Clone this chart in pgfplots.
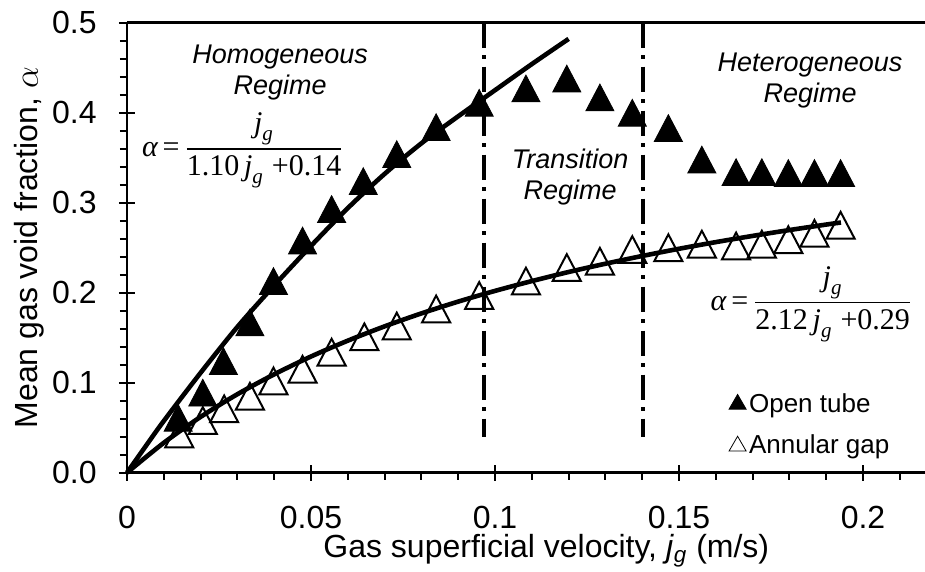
\documentclass[border=0pt]{standalone}
\usepackage{amsmath}
\usepackage{pgfplots}
\pgfplotsset{compat=1.18}
\usepackage{fontspec}
\setmainfont{Liberation Sans}
\newfontfamily\tnr{Liberation Serif}
\newcommand\ti[1]{\text{\tnr\itshape #1}}
\newcommand\tr[1]{\text{\tnr #1}}
\begin{document}
\begin{tikzpicture}
\begin{axis}[
  scale only axis, width=399.3pt, height=225pt,
  xmin=0, xmax=0.217, ymin=0, ymax=0.5,
  axis x line*=bottom, axis y line*=left,
  axis line style={line width=1.4pt, -},
  xtick={0,0.05,0.1,0.15,0.2,0.25}, minor x tick num=4,
  ytick={0,0.1,0.2,0.3,0.4,0.5}, minor y tick num=4,
  tick align=center, major tick length=8pt, minor tick length=3.5pt,
  every tick/.style={line width=1pt, black},
  minor x tick style={yshift=-1.75pt}, minor y tick style={xshift=-1.75pt},
  /pgf/number format/assume math mode=true,
  ticklabel style={font=\fontsize{16}{19}\selectfont},
  xticklabel style={/pgf/number format/fixed, /pgf/number format/precision=2, anchor=base, inner sep=0pt, yshift=-24pt},
  yticklabel style={/pgf/number format/fixed, /pgf/number format/fixed zerofill, /pgf/number format/precision=1, anchor=east, inner sep=0pt, xshift=-11pt},
  xlabel={Gas superficial velocity, \textit{j}\textsubscript{\textit{g}} (m/s)},
  ylabel={Mean gas void fraction, $\alpha$},
  label style={font=\fontsize{16}{19}\selectfont},
  xlabel style={at={(axis description cs:0.525,-0.174)}, anchor=center, inner sep=0pt},
  ylabel style={at={(axis description cs:-0.122,0.5)}, anchor=center, inner sep=0pt},
  legend style={at={(axis cs:0.1635,0.092)}, anchor=north west, draw=none, fill=none,
    font=\fontsize{13}{15}\selectfont, row sep=7pt, inner sep=0pt,
    nodes={inner sep=1.5pt, font=\fontsize{13}{15}\selectfont}},
  legend cell align=left,
  legend image code/.code={\draw[#1, mark size=4.9pt, mark options={yscale=1}] plot coordinates {(0.25cm,0cm)};},
  clip=false,
]
% Open tube
\addplot[only marks, mark=triangle*, mark size=8.1pt, mark options={fill=black, draw=black, yscale=1.1}]
 coordinates {(0.0139,0.056)(0.0206,0.084)(0.0262,0.119)(0.0334,0.162)(0.0398,0.208)(0.0477,0.253)(0.0556,0.288)(0.0642,0.319)(0.0733,0.349)(0.0840,0.379)(0.0957,0.406)(0.1084,0.422)(0.1195,0.433)(0.1285,0.412)(0.1373,0.395)(0.1471,0.378)(0.1562,0.343)(0.1655,0.329)(0.1725,0.329)(0.1797,0.328)(0.1868,0.328)(0.1939,0.328)};
\addlegendentry{Open tube}
% Annular gap
\addplot[only marks, mark=triangle, mark size=8.1pt, mark options={draw=black, line width=1pt, yscale=1.1}]
 coordinates {(0.0142,0.038)(0.0206,0.053)(0.0264,0.066)(0.0334,0.080)(0.0398,0.097)(0.0477,0.110)(0.0556,0.129)(0.0645,0.146)(0.0733,0.158)(0.0840,0.177)(0.0957,0.192)(0.1084,0.208)(0.1195,0.223)(0.1285,0.230)(0.1373,0.243)(0.1471,0.245)(0.1562,0.249)(0.1655,0.247)(0.1725,0.249)(0.1797,0.254)(0.1868,0.261)(0.1939,0.270)};
\addlegendentry{Annular gap}
% fitted curves
\addplot[forget plot, black, line width=2.3pt, smooth]
 coordinates {(0,0)(0.005,0.029)(0.01,0.0575)(0.02,0.111)(0.03,0.162)(0.04,0.208)(0.05,0.252)(0.06,0.294)(0.07,0.332)(0.08,0.366)(0.09,0.396)(0.10,0.425)(0.11,0.454)(0.12,0.482)};
\addplot[forget plot, black, line width=2.3pt, smooth]
 coordinates {(0,0)(0.01,0.0332)(0.02,0.0620)(0.03,0.0872)(0.04,0.1093)(0.05,0.1291)(0.06,0.1467)(0.07,0.1626)(0.08,0.1770)(0.09,0.1901)(0.10,0.2020)(0.11,0.2129)(0.12,0.2230)(0.13,0.2322)(0.14,0.2408)(0.15,0.2488)(0.16,0.2562)(0.17,0.2631)(0.18,0.2696)(0.19,0.2757)(0.194,0.278)};
% regime boundaries
\addplot[forget plot, black, line width=2pt, dash pattern=on 12.5pt off 3.75pt on 2pt off 3.75pt]
 coordinates {(0.097,0.5)(0.097,0.04)};
\addplot[forget plot, black, line width=2pt, dash pattern=on 12.5pt off 3.75pt on 2pt off 3.75pt]
 coordinates {(0.1401,0.5)(0.1401,0.04)};
% top line
\draw[line width=1.4pt] (rel axis cs:0,1) -- (rel axis cs:1,1);
% annotations
\node[font=\fontsize{13.5}{15.5}\selectfont\itshape, align=center] at (axis cs:0.0416,0.445) {Homogeneous\\Regime};
\node[font=\fontsize{13.5}{15.5}\selectfont\itshape, align=center] at (axis cs:0.1204,0.328) {Transition\\Regime};
\node[font=\fontsize{13.5}{15.5}\selectfont\itshape, align=center] at (axis cs:0.1856,0.436) {Heterogeneous\\Regime};
\node[font=\fontsize{15}{18}\selectfont] at (axis cs:0.0315,0.358) {$\displaystyle \ti{α}\,\tr{=}\,\frac{\ti{j}_{\ti{g}}}{\tr{1.10}\,\ti{j}_{\ti{g}}\;\tr{+0.14}}$};
\node[font=\fontsize{15}{18}\selectfont] at (axis cs:0.1860,0.187) {$\displaystyle \ti{α}\,\tr{=}\,\frac{\ti{j}_{\ti{g}}}{\tr{2.12}\,\ti{j}_{\ti{g}}\;\tr{+0.29}}$};
\end{axis}
\pgfresetboundingbox
\useasboundingbox (-63.5pt,-49.65pt) rectangle (399pt,236.35pt);
\end{tikzpicture}
\end{document}
